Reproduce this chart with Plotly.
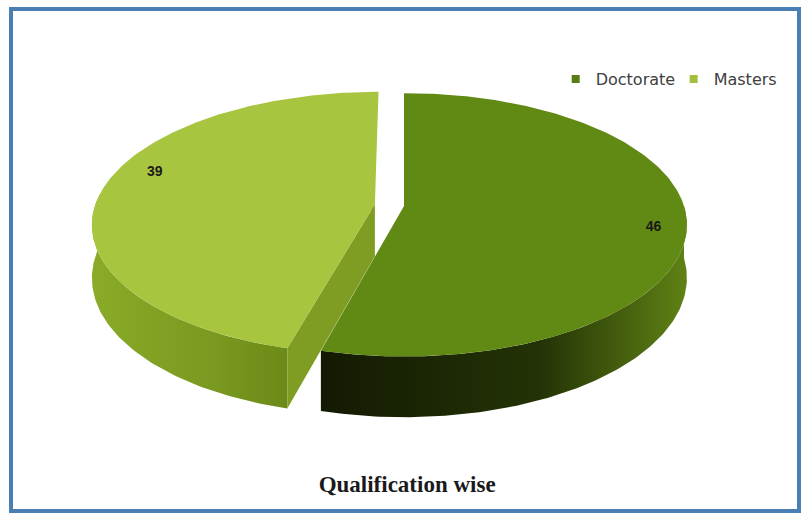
import numpy as np
import plotly.graph_objects as go

# Data
categories = ["Doctorate", "Masters"]
counts = [46, 39]

# Colours per slice: top face, outer wall gradient, cut face
top_colors = ["#618a14", "#a8c540"]
wall_colors = [["#131a03", "#243306", "#5f8214"], ["#8aaa28", "#7a9a20", "#6c8a18"]]
cut_colors = ["#3a5208", "#7e9d22"]
edge_colors = ["#3a5208", "#5d7a12"]
legend_colors = ["#5a7c12", "#a3bf3c"]

# Pie geometry (page pixels), simple perspective projection
W, H_PX = 803, 518
CX, CY = 404, 206
A, B = 280, 129          # radii of the top face
DEPTH = 52               # thickness of the pie
D = 7.0                  # perspective distance
PULL = [0.0, 0.105]      # explode amount per slice
LABEL_R = [0.885, 0.86]
LABEL_SHIFT = [-3.0, -10.0]  # degrees


def project(u, v, h):
    s = D / (D - v)
    return CX + A * u * s, CY + (B * v + DEPTH * h) * s


def rim(theta_deg, pu, pv, h):
    t = np.radians(theta_deg)
    u = np.cos(t) + pu
    v = -np.sin(t) + pv
    return project(u, v, h)


def cut_face(theta, pu, pv, color):
    cx0, cy0 = project(pu, pv, 0.0)
    cx1, cy1 = project(pu, pv, 1.0)
    ex0, ey0 = rim(np.array([theta]), pu, pv, 0.0)
    ex1, ey1 = rim(np.array([theta]), pu, pv, 1.0)
    return go.Scatter(
        x=[cx0, ex0[0], ex1[0], cx1, cx0], y=[cy0, ey0[0], ey1[0], cy1, cy0],
        fill="toself", mode="lines", line=dict(width=0),
        fillcolor=color, hoverinfo="skip", showlegend=False)


total = sum(counts)
fig = go.Figure()

# slice angular spans: start at 12 o'clock and go clockwise
spans = []
start = 90.0
for c in counts:
    sweep = 360.0 * c / total
    spans.append((start - sweep, start))
    start -= sweep
spans[1] = (spans[1][0] + 360.0, spans[1][1] + 360.0)

order = [1, 0]  # the exploded slice sits behind
label_pts = {}
for i in order:
    lo, hi = spans[i]
    mid = 0.5 * (lo + hi)
    pu = PULL[i] * np.cos(np.radians(mid))
    pv = -PULL[i] * np.sin(np.radians(mid))

    # outer wall: the part of the rim that faces the viewer
    if i == 1:
        ang = np.linspace(max(lo, 175.0), hi, 80)
    else:
        ang = np.linspace(lo, 0.0, 120)
    tx, ty = rim(ang, pu, pv, 0.0)
    bx, by = rim(ang[::-1], pu, pv, 1.0)
    fig.add_trace(go.Scatter(
        x=np.concatenate([tx, bx]), y=np.concatenate([ty, by]),
        fill="toself", mode="lines", line=dict(width=0),
        fillgradient=dict(type="horizontal",
                          colorscale=[[0, wall_colors[i][0]], [0.6, wall_colors[i][1]],
                                      [1, wall_colors[i][2]]]),
        hoverinfo="skip", showlegend=False))

    # radial cut faces of the exploded slice
    if i == 1:
        fig.add_trace(cut_face(lo, pu - 0.012, pv, edge_colors[i]))
        fig.add_trace(cut_face(hi, pu, pv, cut_colors[i]))

    # top face
    ang = np.linspace(lo, hi, 200)
    rx, ry = rim(ang, pu, pv, 0.0)
    ccx, ccy = project(pu, pv, 0.0)
    fig.add_trace(go.Scatter(
        x=np.concatenate([[ccx], rx, [ccx]]), y=np.concatenate([[ccy], ry, [ccy]]),
        fill="toself", mode="lines", line=dict(width=0),
        fillcolor=top_colors[i], name=categories[i],
        hoverinfo="skip", showlegend=False))

    # value label position
    la = np.radians(mid + LABEL_SHIFT[i])
    lx, ly = project(LABEL_R[i] * np.cos(la) + pu, -LABEL_R[i] * np.sin(la) + pv, 0.0)
    label_pts[i] = (lx, ly)

# value labels
fig.add_trace(go.Scatter(
    x=[label_pts[i][0] for i in range(len(counts))],
    y=[label_pts[i][1] for i in range(len(counts))],
    text=[str(c) for c in counts], mode="text",
    texttemplate="<b>%{text}</b>",
    textfont=dict(family="Liberation Sans", size=14, color="#1a1a1a"),
    hoverinfo="skip", showlegend=False))

# legend entries
for i, name in enumerate(categories):
    fig.add_trace(go.Scatter(
        x=[None], y=[None], mode="markers", name=name,
        marker=dict(symbol="square", size=8, color=legend_colors[i])))

fig.update_layout(
    width=W, height=H_PX,
    margin=dict(l=0, r=0, t=0, b=0),
    paper_bgcolor="white", plot_bgcolor="white",
    xaxis=dict(range=[0, W], visible=False, fixedrange=True),
    yaxis=dict(range=[H_PX, 0], visible=False, fixedrange=True),
    legend=dict(orientation="h", x=0.692, y=1 - 79 / H_PX, xanchor="left", yanchor="middle",
                font=dict(family="DejaVu Sans", size=16, color="#404040"),
                itemwidth=30, entrywidth=73, bgcolor="rgba(0,0,0,0)", tracegroupgap=0),
    title=dict(text="<b>Qualification wise</b>", x=0.507, xanchor="center",
               y=1 - 484 / H_PX, yanchor="middle", yref="paper",
               font=dict(family="Liberation Serif", size=23, color="#1a1a1a")),
    shapes=[dict(type="rect", xref="x", yref="y", x0=11, y0=9, x1=799, y1=511,
                 line=dict(color="#4a7fb6", width=4))],
)

fig.write_html("out.html")
